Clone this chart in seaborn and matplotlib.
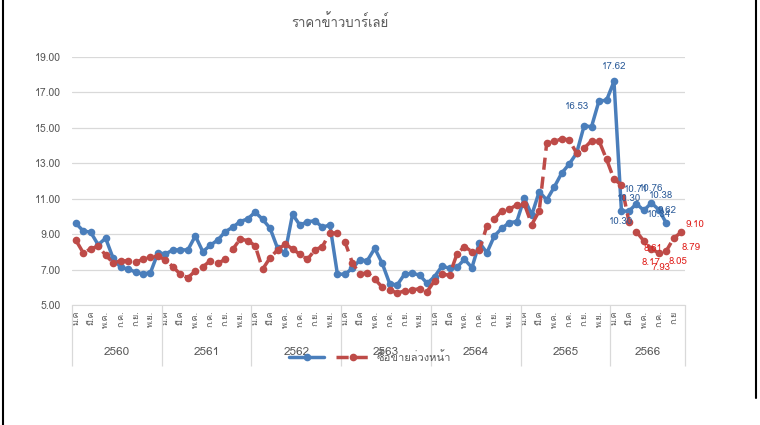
import numpy as np
import pandas as pd
import matplotlib
matplotlib.use("Agg")
import matplotlib.pyplot as plt
import seaborn as sns
from matplotlib import font_manager
from matplotlib.ft2font import FT2Font
from matplotlib.lines import Line2D

# --- data ---
years = ["2560", "2561", "2562", "2563", "2564", "2565", "2566"]
months_per_year = [12, 12, 12, 12, 12, 12, 10]
month_names = ["ม.ค", "มี.ค", "พ.ค.", "ก.ค.", "ก.ย.", "พ.ย."]
last_month_name = "ก.ย"

price = [
    9.62, 9.18, 9.11, 8.40, 8.77, 7.64, 7.13, 7.03, 6.86, 6.75, 6.83, 7.95,
    7.88, 8.11, 8.11, 8.11, 8.90, 8.01, 8.37, 8.67, 9.14, 9.39, 9.71, 9.86,
    10.24, 9.84, 9.33, 8.20, 7.95, 10.12, 9.50, 9.71, 9.75, 9.39, 9.52, 6.75,
    6.73, 7.07, 7.54, 7.50, 8.20, 7.35, 6.20, 6.13, 6.75, 6.79, 6.69, 6.22,
    6.60, 7.20, 7.07, 7.13, 7.58, 7.11, 8.52, 7.95, 8.90, 9.33, 9.65, 9.71,
    11.03, 10.08, 11.40, 10.93, 11.65, 12.44, 12.95, 13.57, 15.11, 15.07, 16.53, 16.55,
    17.62, 10.30, 10.30, 10.71, 10.34, 10.76, 10.38, 9.62,
]
futures = [
    8.67, 7.95, 8.16, 8.33, 7.81, 7.39, 7.49, 7.49, 7.41, 7.58, 7.71, 7.77,
    7.54, 7.16, 6.73, 6.54, 6.92, 7.15, 7.50, 7.35, 7.58, 8.14, 8.73, 8.63,
    8.35, 7.02, 7.67, 8.11, 8.45, 8.16, 7.86, 7.58, 8.11, 8.30, 9.08, 9.05,
    8.58, 7.39, 6.73, 6.83, 6.47, 6.00, 5.87, 5.66, 5.81, 5.85, 5.92, 5.75,
    6.37, 6.73, 6.69, 7.88, 8.30, 8.01, 8.11, 9.46, 9.84, 10.33, 10.41, 10.65,
    10.72, 9.54, 10.31, 14.14, 14.23, 14.38, 14.32, 13.57, 13.85, 14.27, 14.27, 13.23,
    12.10, 11.78, 9.71, 9.14, 8.61, 8.17, 7.93, 8.05, 8.79, 9.10,
]
futures_label = "ซื้อขายล่วงหน้า"
title = "ราคาข้าวบาร์เลย์"

# labelled points: index -> (dx, dy) offset in pixels
price_labels = {70: (-22, 6), 72: (0, -15), 73: (0, 10), 74: (0, -13),
                75: (0, -14), 76: (15, 4), 77: (0, -14), 78: (2, -14), 79: (1, -13)}
futures_labels = {76: (9, 7), 77: (0, 14), 78: (2, 14), 79: (12, 11),
                  80: (17, 10), 81: (14, -8)}

# find a font that has Thai glyphs
thai_font = None
for f in font_manager.fontManager.ttflist:
    try:
        if 0x0E23 in FT2Font(f.fname).get_charmap():
            thai_font = f.name
            break
    except Exception:
        pass

sns.set_style("white")
fams = [thai_font, "DejaVu Sans"] if thai_font else ["DejaVu Sans"]
plt.rcParams["font.family"] = fams

blue = "#4A7EBB"
red = "#BE4B48"
txt = "#595959"

df_p = pd.DataFrame({"i": np.arange(len(price)), "v": price})
df_f = pd.DataFrame({"i": np.arange(len(futures)), "v": futures})

fig = plt.figure(figsize=(7.6, 4.25), dpi=100)
ax = fig.add_axes([72 / 760, 1 - 305 / 425, 613 / 760, 248 / 425])

sns.lineplot(data=df_p, x="i", y="v", ax=ax, color=blue, lw=2.5,
             marker="o", markersize=5.5, markeredgewidth=0)
sns.lineplot(data=df_f, x="i", y="v", ax=ax, color=red, lw=2.5,
             marker="o", markersize=5.5, markeredgewidth=0, dashes=False,
             linestyle=(0, (3.5, 2)))

px = 0.72  # points per pixel at dpi 100
for i, (dx, dy) in price_labels.items():
    ax.annotate(f"{price[i]:.2f}", (i, price[i]), xytext=(dx * px, -dy * px),
                textcoords="offset points", ha="center", va="center",
                fontsize=7, color="#2E5D9A")
for i, (dx, dy) in futures_labels.items():
    ax.annotate(f"{futures[i]:.2f}", (i, futures[i]), xytext=(dx * px, -dy * px),
                textcoords="offset points", ha="center", va="center",
                fontsize=7, color="#E0201C")

n = sum(months_per_year)
ax.set_xlim(-0.5, n - 0.5)
ax.set_ylim(5, 19)
ax.set_yticks(np.arange(5, 20, 2))
ax.set_yticklabels([f"{v:.2f}" for v in np.arange(5, 20, 2)], fontsize=7.5, color=txt)
ax.yaxis.grid(True, color="#D9D9D9", lw=0.9)
ax.set_axisbelow(True)
for s in ["top", "right", "left"]:
    ax.spines[s].set_visible(False)
ax.spines["bottom"].set_color("#D9D9D9")

# two-level category axis
ticks, labels = [], []
start = 0
bounds = [-0.5]
for y, m in zip(years, months_per_year):
    for k in range(0, m, 2):
        ticks.append(start + k)
        labels.append(month_names[k // 2] if m == 12 or k < 8 else last_month_name)
    ax.text(start + m / 2 - 0.5, -0.19, y, transform=ax.get_xaxis_transform(),
            ha="center", va="center", fontsize=8.5, color=txt)
    start += m
    bounds.append(start - 0.5)
ax.set_xticks(ticks)
ax.set_xticklabels(labels, rotation=90, fontsize=6.5, color=txt)
ax.tick_params(axis="x", length=0, pad=4)
ax.tick_params(axis="y", length=0, pad=8)
ax.vlines(bounds, -0.245, 0, transform=ax.get_xaxis_transform(),
          color="#D9D9D9", lw=0.9, clip_on=False)
ax.set_xlabel("")
ax.set_ylabel("")

fig.text(340 / 760, 1 - 22 / 425, title, ha="center", va="center",
         fontsize=9.5, color=txt)

handles = [Line2D([], [], color=blue, lw=2.5, marker="o", markersize=5.5, markeredgewidth=0),
           Line2D([], [], color=red, lw=2.5, marker="o", markersize=5.5, markeredgewidth=0,
                  linestyle=(0, (3.5, 2)))]
fig.legend(handles, ["", futures_label], loc="center",
           bbox_to_anchor=(370 / 760, 1 - 357 / 425), ncol=2, frameon=False,
           fontsize=8, handlelength=3.2, columnspacing=0.5, handletextpad=0.5,
           labelcolor=txt)

# chart frame edges
fig.add_artist(Line2D([3 / 760, 3 / 760], [0, 1], color="black", lw=1.5))
fig.add_artist(Line2D([756 / 760, 756 / 760], [1 - 398 / 425, 1], color="black", lw=1.5))

fig.savefig("out.png", dpi=100)
